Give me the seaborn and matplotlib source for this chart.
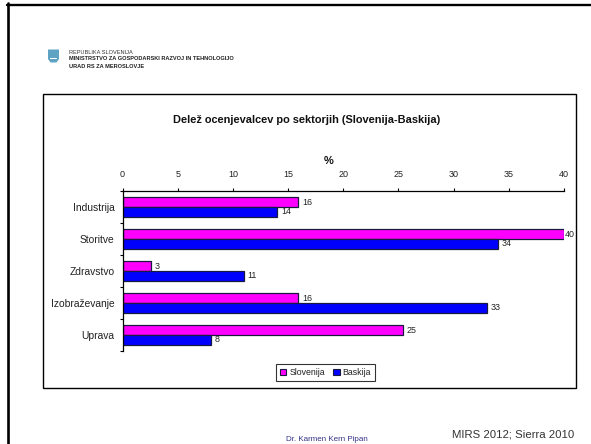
import matplotlib
matplotlib.use("Agg")
import matplotlib.pyplot as plt
from matplotlib.patches import Rectangle, Polygon
import pandas as pd
import seaborn as sns

categories = ["Industrija", "Storitve", "Zdravstvo", "Izobraževanje", "Uprava"]
slovenija = [15.9, 40.0, 2.6, 15.9, 25.4]
baskija = [14.0, 34.0, 11.0, 33.0, 8.0]
series_names = ["Slovenija", "Baskija"]
x_ticks = [0, 5, 10, 15, 20, 25, 30, 35, 40]
title = "Delež ocenjevalcev po sektorjih (Slovenija-Baskija)"
header_lines = ["REPUBLIKA SLOVENIJA",
                "MINISTRSTVO ZA GOSPODARSKI RAZVOJ IN TEHNOLOGIJO",
                "URAD RS ZA MEROSLOVJE"]
footer_author = "Dr. Karmen Kern Pipan"
footer_source = "MIRS 2012; Sierra 2010"

W, H = 591, 444
sns.set_theme(style="white")
plt.rcParams["font.family"] = ["Liberation Sans", "DejaVu Sans"]

df = pd.DataFrame({"sektor": categories * 2,
                   "serija": [series_names[0]] * 5 + [series_names[1]] * 5,
                   "delez": slovenija + baskija})

fig = plt.figure(figsize=(W / 100, H / 100), dpi=100, facecolor="white")

def fx(x): return x / W
def fy(y): return 1 - y / H

# slide frame
fig.add_artist(plt.Line2D([fx(8), fx(8)], [fy(3.4), 0], color="black", lw=1.9))
fig.add_artist(plt.Line2D([fx(7), 1], [fy(4.6), fy(4.6)], color="black", lw=1.7))

# chart box
fig.add_artist(Rectangle((fx(42.5), fy(388)), fx(533.5), 294 / H, fill=False,
                         edgecolor="black", lw=1.0, transform=fig.transFigure))

# logo
fig.add_artist(Polygon([(fx(48), fy(49.5)), (fx(59), fy(49.5)), (fx(59), fy(59)),
                        (fx(56.5), fy(62.5)), (fx(50.5), fy(62.5)), (fx(48), fy(59))],
                       closed=True, facecolor="#5fa3c4", edgecolor="none",
                       transform=fig.transFigure))
fig.add_artist(Rectangle((fx(50), fy(59.5)), fx(7), 1.5 / H, facecolor="white",
                         edgecolor="none", transform=fig.transFigure))

# header
fig.text(fx(69), fy(52), header_lines[0], fontsize=4.1, color="#333333", va="center")
fig.text(fx(69), fy(59), header_lines[1], fontsize=4.1, color="#222222", va="center", fontweight="bold")
fig.text(fx(69), fy(66), header_lines[2], fontsize=4.1, color="#222222", va="center", fontweight="bold")

# plot
ax = fig.add_axes([fx(122.5), fy(351), (564 - 122.5) / W, 160 / H])
ax.patch.set_alpha(0)
sns.barplot(data=df, y="sektor", x="delez", hue="serija", order=categories,
            hue_order=series_names, palette=["#FF00FF", "#0000FF"], orient="h",
            width=0.6, gap=0, edgecolor="#1a1a40", linewidth=0.9, saturation=1,
            legend=False, ax=ax)
ax.set_xlim(0, 40)
ax.set_ylim(4.5, -0.5)
ax.set_xlabel("")
ax.set_ylabel("")
ax.xaxis.tick_top()
ax.set_xticks(x_ticks)
ax.set_xticklabels([str(t) for t in x_ticks], fontsize=6.5, color="#222222")
ax.set_yticks([i - 0.5 for i in range(6)], minor=False)
ax.set_yticklabels([])
ax.tick_params(axis="x", top=True, bottom=False, length=2.2, width=0.8, color="black", pad=6.6)
ax.tick_params(axis="y", left=True, length=2.2, width=0.8, color="black")
for i, c in enumerate(categories):
    ax.annotate(c, (0, i), xytext=(-5.9, -0.6), textcoords="offset points", ha="right",
                va="center", fontsize=7.4, color="#222222", annotation_clip=False)
for s in ["right", "bottom"]:
    ax.spines[s].set_visible(False)
for s in ["top", "left"]:
    ax.spines[s].set_color("black")
    ax.spines[s].set_linewidth(0.9)

for cont in ax.containers:
    labels = ax.bar_label(cont, fmt="%.0f", padding=2.8, fontsize=6.4, color="#222222", clip_on=False)
    for lab in labels:
        if lab.get_text() == "40":
            lab.xyann = (0.8, 0)

# title and axis caption
fig.text(fx(307), fy(120), title, fontsize=7.9, fontweight="bold", color="#111111",
         ha="center", va="center")
fig.text(fx(329), fy(160.7), "%", fontsize=7.9, fontweight="bold", color="#111111",
         ha="center", va="center")

# legend
handles = [Rectangle((0, 0), 1, 1, facecolor=c, edgecolor="#1a1a40", lw=0.8)
           for c in ["#FF00FF", "#0000FF"]]
leg = fig.legend(handles, series_names, loc="center", bbox_to_anchor=(fx(325.5), fy(372.5)),
                 fontsize=6.3, frameon=True, fancybox=False, edgecolor="black",
                 ncol=2, handlelength=0.75, handleheight=0.75, handletextpad=0.35,
                 columnspacing=0.9, borderpad=0.45, labelcolor="#222222")
leg.get_frame().set_linewidth(0.8)

# footer
fig.text(fx(326.5), fy(439), footer_author, fontsize=5.8, color="#333388", ha="center", va="center")
fig.text(fx(513), fy(434), footer_source, fontsize=8.2, color="#333333", ha="center", va="center")

fig.savefig("out.png", dpi=100)
